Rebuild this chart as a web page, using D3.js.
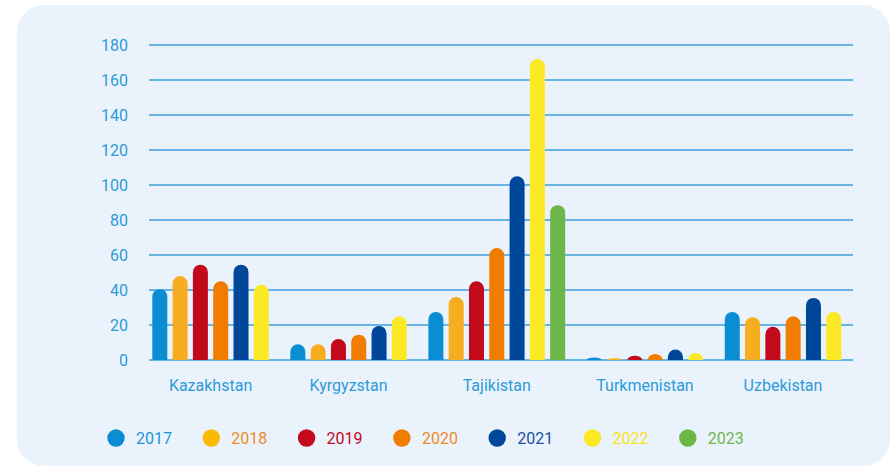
<!DOCTYPE html>
<html>
<head>
<meta charset="utf-8">
<script src="https://cdn.jsdelivr.net/npm/d3@7"></script>
<style>
  html, body { margin: 0; padding: 0; background: #ffffff; }
  svg { display: block; font-family: Roboto, "Noto Sans", sans-serif; }
</style>
</head>
<body>
<svg id="chart" width="893" height="466"></svg>
<script>
// Categories and yearly series (null = no data for that year)
const countries = ["Kazakhstan", "Kyrgyzstan", "Tajikistan", "Turkmenistan", "Uzbekistan"];
const years = ["2017", "2018", "2019", "2020", "2021", "2022", "2023"];
const values2017 = [40.5, 9, 27.5, 1.5, 27.5];
const values2018 = [48, 9, 36, 1, 24.5];
const values2019 = [54.5, 12, 45, 2.5, 19];
const values2020 = [45, 14.5, 64, 3.5, 25];
const values2021 = [54.5, 19.5, 105, 6, 35.5];
const values2022 = [43, 25, 172, 4, 27.5];
const values2023 = [null, null, 88.5, null, null];
const yTicks = [0, 20, 40, 60, 80, 100, 120, 140, 160, 180];

const seriesValues = [values2017, values2018, values2019, values2020, values2021, values2022, values2023];
const barColors = ["#0a8dd3", "#f8ac1f", "#c20a1c", "#f07d00", "#00479a", "#fbe925", "#6db648"];
const dotColors = ["#0a8dd3", "#fbb900", "#c20a1c", "#f07d00", "#00479a", "#fbe925", "#6db648"];
const labelColors = ["#1d93d6", "#f08a24", "#c20a1c", "#f08a24", "#1e4fa0", "#f7e323", "#6fb74c"];

const svg = d3.select("#chart");

// Light panel behind the chart
svg.append("rect")
  .attr("x", 17).attr("y", 5)
  .attr("width", 873).attr("height", 461)
  .attr("rx", 27).attr("ry", 27)
  .attr("fill", "#eaf3fc");

const y = d3.scaleLinear().domain([0, 180]).range([360, 45]);

// Flat list of bars: each country keeps only the years it has data for,
// with an extra gap between country groups.
const groupGap = 0.8;
const bars = [];
const groups = [];
let slot = 0;
countries.forEach((c, ci) => {
  const start = slot;
  years.forEach((yr, yi) => {
    const v = seriesValues[yi][ci];
    if (v == null) return;
    bars.push({ country: c, year: yr, yi, value: v, slot });
    slot += 1;
  });
  groups.push({ country: c, start, end: slot - 1 });
  slot += groupGap;
});

const barStep = 20.3;
const barWidth = 15;
const x = d3.scaleLinear().domain([0, 1]).range([152.3, 152.3 + barStep]);

// Gridlines
svg.append("g")
  .selectAll("line")
  .data(yTicks)
  .join("line")
  .attr("x1", 149).attr("x2", 853)
  .attr("y1", d => y(d)).attr("y2", d => y(d))
  .attr("stroke", "#3d9fdc")
  .attr("stroke-width", 1.3);

// Y axis labels
const yAxis = d3.axisLeft(y).tickValues(yTicks).tickSize(0).tickPadding(0);
const yg = svg.append("g")
  .attr("transform", "translate(128,0)")
  .call(yAxis);
yg.select(".domain").remove();
yg.selectAll("text")
  .attr("fill", "#2e9ad7")
  .attr("font-size", 16)
  .attr("font-family", "Roboto, sans-serif")
  .attr("dy", "0.36em");

// Bars with rounded tops
function roundedTop(x0, w, yTop, yBase) {
  const h = yBase - yTop;
  const rx = w / 2;
  const ry = Math.min(rx, h);
  return `M${x0},${yBase}V${yTop + ry}A${rx},${ry} 0 0 1 ${x0 + w},${yTop + ry}V${yBase}Z`;
}

svg.append("g")
  .selectAll("path")
  .data(bars)
  .join("path")
  .attr("d", d => roundedTop(x(d.slot), barWidth, y(d.value), y(0)))
  .attr("fill", d => barColors[d.yi]);

// Country labels centred under their bars
svg.append("g")
  .selectAll("text")
  .data(groups)
  .join("text")
  .attr("x", d => (x(d.start) + x(d.end) + barWidth) / 2)
  .attr("y", 385)
  .attr("dy", "0.35em")
  .attr("text-anchor", "middle")
  .attr("font-size", 16)
  .attr("fill", "#2e9ad7")
  .text(d => d.country);

// Legend
const legendX = d3.scaleLinear().domain([0, 1]).range([116, 211.3]);
const legend = svg.append("g")
  .selectAll("g")
  .data(years)
  .join("g")
  .attr("transform", (d, i) => `translate(${legendX(i)},438)`);
legend.append("circle")
  .attr("r", 8.7)
  .attr("fill", (d, i) => dotColors[i]);
legend.append("text")
  .attr("x", 20)
  .attr("dy", "0.36em")
  .attr("font-size", 16)
  .attr("fill", (d, i) => labelColors[i])
  .text(d => d);
</script>
</body>
</html>
